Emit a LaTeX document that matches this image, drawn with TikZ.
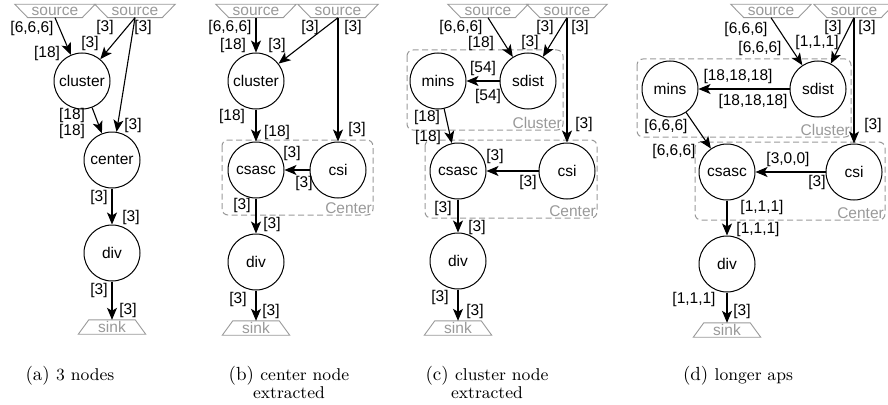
\documentclass[tikz,border=0pt]{standalone}
\usepackage{fontspec}
\setsansfont{Liberation Sans}
\usetikzlibrary{arrows.meta}

\definecolor{ghost}{gray}{0.6}
\newcommand{\opfont}{\sffamily\fontsize{15.5}{17}\selectfont}

\tikzset{
  op/.style={circle, draw, line width=1pt, minimum size=56pt, inner sep=0pt, font=\opfont},
  srcnode/.style={inner sep=0pt, minimum width=80pt, minimum height=13pt, text=ghost, font=\opfont,
    append after command={\pgfextra{\let\lastsrc\tikzlastnode
      \draw[ghost, line width=.9pt] (\lastsrc.north west) -- ([xshift=13pt]\lastsrc.south west)
        -- ([xshift=-13pt]\lastsrc.south east) -- (\lastsrc.north east) -- cycle;}}},
  sinknode/.style={inner sep=0pt, minimum width=67pt, minimum height=14pt, text=ghost, font=\opfont,
    append after command={\pgfextra{\let\lastsnk\tikzlastnode
      \draw[ghost, line width=.9pt] (\lastsnk.south west) -- ([xshift=10.5pt]\lastsnk.north west)
        -- ([xshift=-10.5pt]\lastsnk.north east) -- (\lastsnk.south east) -- cycle;}}},
  flow/.style={-{Stealth[length=12pt,width=10pt,inset=3pt]}, line width=1.1pt},
  lb/.style={font=\opfont, inner sep=0pt},
  grp/.style={draw=ghost, line width=1pt, dash pattern=on 6pt off 3.5pt, rounded corners=6pt},
  grplbl/.style={text=ghost, font=\opfont, anchor=south east, inner sep=1pt},
  subcap/.style={font=\rmfamily, align=center, anchor=north, inner sep=0pt, scale=1.9, transform shape},
}

\begin{document}
\begin{tikzpicture}[x=1pt, y=-1pt]
  \useasboundingbox (0,0) rectangle (888,404);

  % (a) 3 nodes
  \node[srcnode] (a-s1) at (55,11) {source};
  \node[srcnode] (a-s2) at (135,11) {source};
  \node[op] (a-cl) at (82,81) {cluster};
  \node[op] (a-ce) at (112,160) {center};
  \node[op] (a-dv) at (112,253) {div};
  \node[sinknode] (a-sk) at (112,327) {sink};

  \draw[flow] (a-s1.south) -- (a-cl) node[lb] at (32,28) {[6,6,6]} node[lb] at (47,53) {[18]};
  \draw[flow] (a-s2.south) -- (a-cl) node[lb] at (105,27) {[3]} node[lb] at (90,43) {[3]};
  \draw[flow] (a-s2.south) -- (a-ce) node[lb] at (143,27) {[3]} node[lb] at (133,125) {[3]};
  \draw[flow] (a-cl) -- (a-ce) node[lb] at (72,115) {[18]} node[lb] at (72,131) {[18]};
  \draw[flow] (a-ce) -- (a-dv) node[lb] at (99,197) {[3]} node[lb] at (131,217) {[3]};
  \draw[flow] (a-dv) -- (a-sk) node[lb] at (99,290) {[3]} node[lb] at (128,310) {[3]};

  % (b) center node extracted
  \draw[grp] (222,140) rectangle (373,215);
  \node[grplbl] (b-grp) at (373,215) {Center};
  \node[srcnode] (b-s1) at (256,11) {source};
  \node[srcnode] (b-s2) at (338,11) {source};
  \node[op] (b-cl) at (256,81) {cluster};
  \node[op] (b-cs) at (256,170) {csasc};
  \node[op] (b-ci) at (338,170) {csi};
  \node[op] (b-dv) at (256,262) {div};
  \node[sinknode] (b-sk) at (256,328) {sink};

  \draw[flow] (b-s1.south) -- (b-cl) node[lb] at (230,27) {[6,6,6]} node[lb] at (233,45) {[18]};
  \draw[flow] (b-s2.south) -- (b-cl) node[lb] at (310,27) {[3]} node[lb] at (277,45) {[3]};
  \draw[flow] (b-s2.south) -- (b-ci) node[lb] at (353,27) {[3]} node[lb] at (357,129) {[3]};
  \draw[flow] (b-cl) -- (b-cs) node[lb] at (232,116) {[18]} node[lb] at (277,132) {[18]};
  \draw[flow] (b-ci) -- (b-cs) node[lb] at (304,183) {[3]} node[lb] at (292,153) {[3]};
  \draw[flow] (b-cs) -- (b-dv) node[lb] at (242,205) {[3]} node[lb] at (272,224) {[3]};
  \draw[flow] (b-dv) -- (b-sk) node[lb] at (238,299) {[3]} node[lb] at (271,311) {[3]};

  % (c) cluster node extracted
  \draw[grp] (407,50) rectangle (563,130);
  \node[grplbl] (c-grp1) at (563,130) {Cluster};
  \draw[grp] (425,140) rectangle (597,218);
  \node[grplbl] (c-grp2) at (597,218) {Center};
  \node[srcnode] (c-s1) at (488,11) {source};
  \node[srcnode] (c-s2) at (567,11) {source};
  \node[op] (c-sd) at (528,81) {sdist};
  \node[op] (c-mn) at (438,81) {mins};
  \node[op] (c-cs) at (458,171) {csasc};
  \node[op] (c-ci) at (567,171) {csi};
  \node[op] (c-dv) at (458,261) {div};
  \node[sinknode] (c-sk) at (458,328) {sink};

  \draw[flow] (c-s1.south) -- (c-sd) node[lb] at (461,27) {[6,6,6]} node[lb] at (481,43) {[18]};
  \draw[flow] (c-s2.south) -- (c-sd) node[lb] at (545,27) {[3]} node[lb] at (530,42) {[3]};
  \draw[flow] (c-s2.south) -- (c-ci) node[lb] at (580,27) {[3]} node[lb] at (584,124) {[3]};
  \draw[flow] (c-sd) -- (c-mn) node[lb] at (488,96) {[54]} node[lb] at (483,68) {[54]};
  \draw[flow] (c-mn) -- (c-cs) node[lb] at (427,117) {[18]} node[lb] at (428,137) {[18]};
  \draw[flow] (c-ci) -- (c-cs) node[lb] at (528,182) {[3]} node[lb] at (495,156) {[3]};
  \draw[flow] (c-cs) -- (c-dv) node[lb] at (443,208) {[3]} node[lb] at (477,227) {[3]};
  \draw[flow] (c-dv) -- (c-sk) node[lb] at (440,297) {[3]} node[lb] at (475,311) {[3]};

  % (d) longer aps
  \draw[grp] (637,59) rectangle (851,137);
  \node[grplbl] (d-grp1) at (851,137) {Cluster};
  \draw[grp] (695,142) rectangle (885,220);
  \node[grplbl] (d-grp2) at (885,220) {Center};
  \node[srcnode] (d-s1) at (771,11) {source};
  \node[srcnode] (d-s2) at (854,11) {source};
  \node[op] (d-sd) at (818,89) {sdist};
  \node[op] (d-mn) at (670,89) {mins};
  \node[op] (d-cs) at (727,172) {csasc};
  \node[op] (d-ci) at (854,172) {csi};
  \node[op] (d-dv) at (727,264) {div};
  \node[sinknode] (d-sk) at (727,330) {sink};

  \draw[flow] (d-s1.south) -- (d-sd) node[lb] at (746,29) {[6,6,6]} node[lb] at (760,48) {[6,6,6]};
  \draw[flow] (d-s2.south) -- (d-sd) node[lb] at (833,27) {[3]} node[lb] at (817,42) {[1,1,1]};
  \draw[flow] (d-s2.south) -- (d-ci) node[lb] at (867,27) {[3]} node[lb] at (873,125) {[3]};
  \draw[flow] (d-sd) -- (d-mn) node[lb] at (753,101) {[18,18,18]} node[lb] at (738,76) {[18,18,18]};
  \draw[flow] (d-mn) -- (d-cs) node[lb] at (666,126) {[6,6,6]} node[lb] at (674,151) {[6,6,6]};
  \draw[flow] (d-ci) -- (d-cs) node[lb] at (817,182) {[3]} node[lb] at (788,159) {[3,0,0]};
  \draw[flow] (d-cs) -- (d-dv) node[lb] at (762,207) {[1,1,1]} node[lb] at (758,229) {[1,1,1]};
  \draw[flow] (d-dv) -- (d-sk) node[lb] at (694,299) {[1,1,1]} node[lb] at (742,311) {[3]};

  % captions
  \node[subcap] (cap-a) at (70,366) {{\normalsize(a)} {\small 3 nodes}};
  \node[subcap] (cap-b) at (289,366) {{\normalsize(b)} {\small center node}\\[-2.5pt]{\small extracted}};
  \node[subcap] (cap-c) at (487,366) {{\normalsize(c)} {\small cluster node}\\[-2.5pt]{\small extracted}};
  \node[subcap] (cap-d) at (738,366) {{\normalsize(d)} {\small longer aps}};
\end{tikzpicture}
\end{document}
